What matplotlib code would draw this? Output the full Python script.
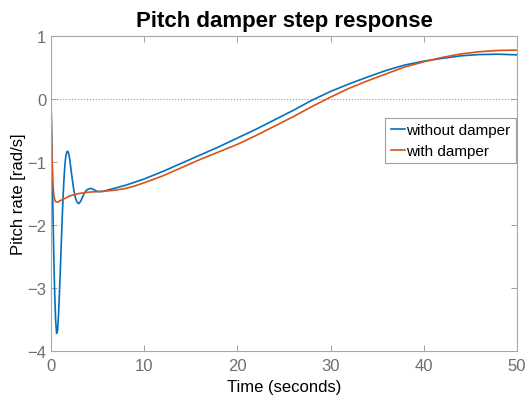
import numpy as np
import matplotlib
matplotlib.use("Agg")
import matplotlib.pyplot as plt

plt.rcParams['font.family'] = ['Liberation Sans', 'DejaVu Sans']

# step response samples, pitch rate [rad/s] vs time [s]
t_nodamp = [0, 0.1, 0.2, 0.3, 0.4, 0.5, 0.6, 0.7, 0.8, 0.9, 1.0, 1.1, 1.2, 1.3,
            1.4, 1.5, 1.6, 1.7, 1.8, 1.9, 2.0, 2.2, 2.4, 2.6, 2.8, 3.0, 3.2, 3.4,
            3.6, 3.8, 4.0, 4.3, 4.6, 5.0, 5.5, 6, 7, 8, 9, 10, 12, 14, 16, 18,
            20, 22, 24, 26, 28, 30, 32, 34, 36, 38, 40, 42, 44, 46, 48, 50]
q_nodamp = [0, -0.75, -1.7, -2.5, -3.1, -3.52, -3.72, -3.68, -3.45, -3.1, -2.72,
            -2.3, -1.9, -1.55, -1.25, -1.03, -0.9, -0.84, -0.83, -0.87, -0.95,
            -1.18, -1.4, -1.56, -1.64, -1.66, -1.62, -1.55, -1.49, -1.45, -1.43,
            -1.42, -1.44, -1.47, -1.47, -1.45, -1.41, -1.37, -1.32, -1.27, -1.15,
            -1.02, -0.89, -0.76, -0.62, -0.48, -0.33, -0.18, -0.02, 0.12, 0.24,
            0.35, 0.455, 0.54, 0.60, 0.645, 0.685, 0.705, 0.71, 0.70]

t_damp = [0, 0.05, 0.1, 0.2, 0.3, 0.4, 0.5, 0.7, 0.9, 1.2, 1.6, 2.0, 2.5, 3.0,
          3.5, 4.0, 5, 6, 7, 8, 9, 10, 12, 14, 16, 18, 20, 22, 24, 26, 28, 30,
          32, 34, 36, 38, 40, 42, 44, 46, 48, 50]
q_damp = [0, -0.5, -0.9, -1.32, -1.52, -1.6, -1.63, -1.64, -1.62, -1.6, -1.57,
          -1.54, -1.52, -1.5, -1.49, -1.48, -1.47, -1.46, -1.445, -1.42, -1.38,
          -1.33, -1.22, -1.09, -0.96, -0.84, -0.72, -0.58, -0.43, -0.28, -0.12,
          0.03, 0.17, 0.29, 0.40, 0.51, 0.59, 0.66, 0.715, 0.75, 0.77, 0.775]

fig = plt.figure(figsize=(5.29, 4.06), dpi=100)
ax = fig.add_axes([0.0964, 0.133, 0.881, 0.776])

ax.plot(t_nodamp, q_nodamp, color='#0072BD', lw=1.2, label='without damper')
ax.plot(t_damp, q_damp, color='#D95319', lw=1.2, label='with damper')
ax.axhline(0, color='#999999', lw=0.8, ls=':', zorder=0)

ax.set_xlim(0, 50)
ax.set_ylim(-4, 1)
ax.set_xticks(np.arange(0, 51, 10))
ax.set_yticks(np.arange(-4, 2, 1))
ax.tick_params(direction='in', length=4, width=0.7, color='#a0a0a0',
               labelcolor='#6e6e6e', labelsize=12, top=True, right=True)
ax.tick_params(axis='x', pad=5)
for s in ax.spines.values():
    s.set_color('#a8a8a8')
    s.set_linewidth(0.8)

ax.set_title('Pitch damper step response', fontsize=16, fontweight='bold', pad=7)
ax.set_xlabel('Time (seconds)', fontsize=12, labelpad=4)
ax.set_ylabel('Pitch rate [rad/s]', fontsize=12, labelpad=0.5)

leg = ax.legend(loc='upper right', bbox_to_anchor=(0.997, 0.74), fontsize=11,
                handlelength=0.9, handletextpad=0.1, borderpad=0.35,
                labelspacing=0.45, borderaxespad=0, fancybox=False, framealpha=1)
leg.get_frame().set_edgecolor('#a0a0a0')
leg.get_frame().set_linewidth(0.8)

fig.savefig('out.png', dpi=100)
